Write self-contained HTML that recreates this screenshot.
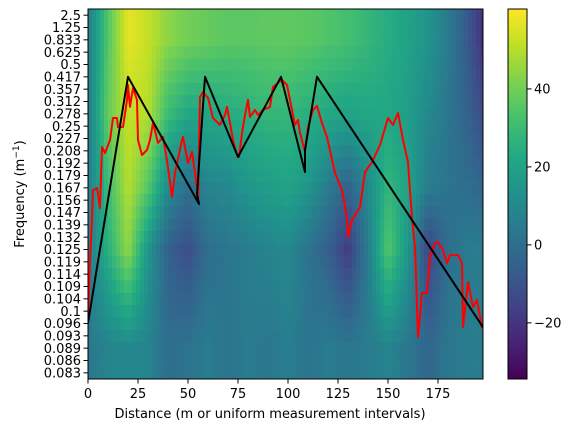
<!DOCTYPE html>
<html><head><meta charset="utf-8"><style>
html,body{margin:0;padding:0;background:#fff;}
svg{display:block;font-family:"DejaVu Sans","Liberation Sans",sans-serif;}
</style></head><body>
<svg id="chart" width="575" height="432" viewBox="0 0 575 432">
<defs>
<clipPath id="plotclip"><rect x="88" y="9" width="395" height="370"/></clipPath>
<linearGradient id="cbgrad" x1="0" y1="1" x2="0" y2="0">
<stop offset="0" stop-color="#440154"/><stop offset="0.1" stop-color="#482475"/><stop offset="0.2" stop-color="#414487"/><stop offset="0.3" stop-color="#355f8d"/><stop offset="0.4" stop-color="#2a788e"/><stop offset="0.5" stop-color="#21918c"/><stop offset="0.6" stop-color="#22a884"/><stop offset="0.7" stop-color="#44bf70"/><stop offset="0.8" stop-color="#7ad151"/><stop offset="0.9" stop-color="#bddf26"/><stop offset="1" stop-color="#fde725"/>
</linearGradient>
</defs>
<g id="heat" clip-path="url(#plotclip)"></g>
<g id="lines" clip-path="url(#plotclip)"></g>
<rect x="88" y="9" width="395" height="370" fill="none" stroke="#000" stroke-width="1"/>
<g id="yticks" font-size="13" text-anchor="end"></g>
<g id="xticks" font-size="13" text-anchor="middle"></g>
<text x="270" y="418" font-size="13" text-anchor="middle">Distance (m or uniform measurement intervals)</text>
<text transform="translate(24,194) rotate(-90)" font-size="13" text-anchor="middle">Frequency (m<tspan baseline-shift="super" font-size="9">−1</tspan>)</text>
<rect x="508" y="9" width="19" height="370" fill="url(#cbgrad)" stroke="#000" stroke-width="1"/>
<g id="cbticks" font-size="13"></g>
</svg>
<script>
const freqLabels=["2.5","1.25","0.833","0.625","0.5","0.417","0.357","0.312","0.278","0.25","0.227","0.208","0.192","0.179","0.167","0.156","0.147","0.139","0.132","0.125","0.119","0.114","0.109","0.104","0.1","0.096","0.093","0.089","0.086","0.083"];
const xTicks=[0,25,50,75,100,125,150,175];
const cbTicks=[-20,0,20,40];
// heatmap band profiles (power) sampled every 10 distance units, 0..200
const bandX=[0,10,20,30,40,50,60,70,80,90,100,110,120,130,140,150,160,170,180,190,200];
const bandRows=[2,8,14,19,27];
const bandA=[5,35,57,52,44,40,38,36,36,37,37,36,34,32,28,24,20,14,5,-8,-25];
const bandB=[5,38,52,50,30,22,22,24,26,28,28,25,22,20,22,22,18,10,3,-5,-15];
const bandC=[5,30,50,35,10,0,8,10,15,18,20,15,5,-5,10,28,20,5,2,0,-5];
const bandD=[5,25,45,15,-5,-12,0,3,5,8,10,2,-5,-18,5,35,15,-15,0,5,5];
const bandE=[3,8,10,8,0,2,5,2,5,3,6,2,5,3,5,8,3,-3,3,5,5];
// red line: distance, row index
const redX=[0,1,2,2.5,4.5,6,7,8.5,11,12.5,14.5,15,17.5,19.5,20,21,22.5,24.5,25,27,29.5,31,32.5,35,37.5,39.5,42,43.5,47,47.5,50,52,54.5,55,56,57.5,60,62.5,66,68.5,69.5,71,72.5,74.5,75.5,77,78.5,80,81,83.5,85,87.5,91,92.5,95,97,99.5,103.5,105,106,108.5,110,112.5,114.5,117,119.5,123.5,127,129.5,130,132,136,138.5,142,146,150,152.5,155,157.5,160,162,163.5,165,167,169.5,171,173.5,175,177.5,179.5,181,185,187,187.5,190,192.5,194.5,197];
const redY=[24.56,19.85,16.61,14.18,14.01,15.64,10.69,11.18,10.12,8.34,8.34,9.07,9.07,6.88,5.66,7.44,5.9,6.88,10.12,11.34,10.93,10.12,8.74,10.36,9.88,11.75,14.74,12.8,10.12,9.88,11.99,11.09,13.93,14.99,6.63,6.23,6.71,8.34,8.9,8.1,7.44,8.74,10.12,11.34,11.5,9.55,8.1,6.88,8.26,7.69,8.1,7.69,7.44,5.82,5.5,5.25,5.66,8.9,8.5,9.55,11.09,9.07,7.69,7.36,8.74,9.88,12.8,14.18,16.45,18.0,16.61,15.56,12.72,11.91,10.53,8.34,8.9,7.93,10.12,11.91,16.45,18.8,26.1,22.53,22.53,19.61,18.48,18.4,19.04,20.1,19.45,19.45,20.1,25.29,21.64,23.67,23.1,25.37];
const blackX=[0,20,55.5,54.5,58.5,75,96.5,108.5,108.5,114.5,197.5];
const blackY=[24.96,5.0,15.31,14.5,5.0,11.5,5.0,12.72,10.93,5.0,25.3];

const NS="http://www.w3.org/2000/svg";
const X0=88,PXU=2,Y0=9,RH=370/30,VMIN=-34.4,VMAX=60.5;
const sx=d=>X0+d*PXU;
const sy=r=>Y0+(r+0.5)*RH;
const cy=v=>9+(VMAX-v)/(VMAX-VMIN)*370;
const vir=[[68,1,84],[72,36,117],[65,68,135],[53,95,141],[42,120,142],[33,145,140],[34,168,132],[68,191,112],[122,209,81],[189,223,38],[253,231,37]];
function col(v){let t=(v-VMIN)/(VMAX-VMIN);t=Math.max(0,Math.min(1,t))*10;const i=Math.min(9,Math.floor(t)),f=t-i;const a=vir[i],b=vir[i+1];return `rgb(${Math.round(a[0]+(b[0]-a[0])*f)},${Math.round(a[1]+(b[1]-a[1])*f)},${Math.round(a[2]+(b[2]-a[2])*f)})`;}
function interp(xs,ys,x){if(x<=xs[0])return ys[0];for(let i=1;i<xs.length;i++){if(x<=xs[i]){const f=(x-xs[i-1])/(xs[i]-xs[i-1]);return ys[i-1]+(ys[i]-ys[i-1])*f;}}return ys[ys.length-1];}
const bands=[bandA,bandB,bandC,bandD,bandE];
const heat=document.getElementById('heat');
for(let c=0;c<99;c++){
  const d=c*2+1;
  const bv=bands.map(b=>interp(bandX,b,d));
  for(let r=0;r<30;r++){
    const v=interp(bandRows,bv,r);
    const el=document.createElementNS(NS,'rect');
    el.setAttribute('x',sx(c*2));el.setAttribute('y',(Y0+r*RH).toFixed(2));
    el.setAttribute('width',2*PXU+0.3);el.setAttribute('height',RH+0.3);
    el.setAttribute('fill',col(v));
    
    
    heat.appendChild(el);
  }
}
const lines=document.getElementById('lines');
function poly(xs,ys,color,name){const p=document.createElementNS(NS,'polyline');p.setAttribute('points',xs.map((x,i)=>sx(x).toFixed(1)+','+sy(ys[i]).toFixed(1)).join(' '));p.setAttribute('fill','none');p.setAttribute('stroke',color);p.setAttribute('stroke-width','2');p.setAttribute('stroke-linejoin','round');


lines.appendChild(p);}
poly(redX,redY,'#ff0000','red-series-line');
poly(blackX,blackY,'#000000','black-series-line');
const yt=document.getElementById('yticks');
freqLabels.forEach((l,i)=>{const y=sy(i);
const t=document.createElementNS(NS,'line');t.setAttribute('x1',83.5);t.setAttribute('x2',88);t.setAttribute('y1',y);t.setAttribute('y2',y);t.setAttribute('stroke','#000');


yt.appendChild(t);
const tx=document.createElementNS(NS,'text');tx.setAttribute('x',81);tx.setAttribute('y',y+4.7);tx.textContent=l;


yt.appendChild(tx);});
const xt=document.getElementById('xticks');
xTicks.forEach(v=>{const x=sx(v);
const t=document.createElementNS(NS,'line');t.setAttribute('x1',x);t.setAttribute('x2',x);t.setAttribute('y1',379);t.setAttribute('y2',383.5);t.setAttribute('stroke','#000');


xt.appendChild(t);
const tx=document.createElementNS(NS,'text');tx.setAttribute('x',x);tx.setAttribute('y',398);tx.textContent=v;


xt.appendChild(tx);});
const cb=document.getElementById('cbticks');
cbTicks.forEach(v=>{const y=cy(v);
const t=document.createElementNS(NS,'line');t.setAttribute('x1',527);t.setAttribute('x2',531.5);t.setAttribute('y1',y);t.setAttribute('y2',y);t.setAttribute('stroke','#000');


cb.appendChild(t);
const tx=document.createElementNS(NS,'text');tx.setAttribute('x',534);tx.setAttribute('y',y+4.7);tx.textContent=v<0?'−'+(-v):v;


cb.appendChild(tx);});
</script>
</body></html>
